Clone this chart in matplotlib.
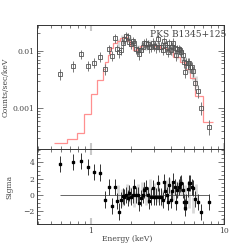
import numpy as np
import matplotlib
matplotlib.use("Agg")
from matplotlib import pyplot as plt
from matplotlib.ticker import FuncFormatter, MultipleLocator, LogLocator

plt.rcParams["font.family"] = ["DejaVu Serif"]

# ------ data (keV, counts/sec/keV, sigma)

energy = [0.588, 0.732, 0.841, 0.944, 1.053, 1.162, 1.274, 1.366, 1.447, 1.506,
          1.568, 1.624, 1.681, 1.730, 1.781, 1.833, 1.887, 1.942, 2.000, 2.058,
          2.118, 2.179, 2.244, 2.309, 2.376, 2.447, 2.518, 2.592, 2.667, 2.746,
          2.826, 2.909, 2.994, 3.082, 3.172, 3.265, 3.360, 3.458, 3.539, 3.622,
          3.707, 3.793, 3.882, 3.972, 4.064, 4.159, 4.257, 4.356, 4.458, 4.561,
          4.669, 4.778, 4.889, 5.003, 5.091, 5.210, 5.332, 5.455, 5.583, 5.713,
          5.846, 6.053, 6.376, 6.754, 7.757]
counts = [0.00395, 0.00543, 0.00865, 0.00551, 0.00621, 0.00788, 0.00482, 0.0107, 0.0082, 0.0164,
          0.0107, 0.0094, 0.0103, 0.0134, 0.0157, 0.0180, 0.0175, 0.0144, 0.0131, 0.0149,
          0.0138, 0.0106, 0.0103, 0.0088, 0.0103, 0.0117, 0.0134, 0.0138, 0.0131, 0.0114,
          0.0117, 0.0138, 0.0121, 0.0114, 0.0157, 0.0117, 0.0117, 0.0103, 0.0149, 0.0126,
          0.0117, 0.0096, 0.0134, 0.0103, 0.0117, 0.0138, 0.0110, 0.0084, 0.0106, 0.0106,
          0.0103, 0.0096, 0.0084, 0.00646, 0.00434, 0.00604, 0.00604, 0.00621, 0.00529, 0.00529,
          0.00445, 0.00272, 0.00200, 0.00103, 0.000483]
count_err = [0.00085, 0.0011, 0.0016, 0.0011, 0.0012, 0.0015, 0.0010, 0.0020, 0.0017, 0.0030,
             0.0021, 0.0019, 0.0020, 0.0024, 0.0027, 0.0030, 0.0029, 0.0025, 0.0023, 0.0026,
             0.0024, 0.0020, 0.0020, 0.0018, 0.0020, 0.0022, 0.0024, 0.0025, 0.0024, 0.0021,
             0.0022, 0.0025, 0.0022, 0.0021, 0.0027, 0.0022, 0.0022, 0.0020, 0.0026, 0.0023,
             0.0022, 0.0019, 0.0024, 0.0020, 0.0022, 0.0025, 0.0021, 0.0017, 0.0020, 0.0020,
             0.0020, 0.0019, 0.0017, 0.0014, 0.0010, 0.0013, 0.0013, 0.0013, 0.0012, 0.0012,
             0.0010, 0.00065, 0.00050, 0.00027, 0.00014]
sigma = [3.80, 4.05, 4.21, 3.44, 2.86, 2.74, -0.57, 1.02, -1.31, 1.02,
         -0.74, -2.04, -0.61, -0.12, -0.29, 0.00, -0.41, 0.25, -0.20, 0.00,
         0.94, 0.00, 0.00, -0.94, -0.41, 0.00, 0.61, 0.82, 0.00, -0.74,
         -0.20, 0.82, -0.20, -0.20, 1.51, -0.20, -0.20, -0.61, 1.60, 0.49,
         0.00, -0.82, 1.23, -0.61, 0.49, 1.64, 1.02, -0.82, 0.61, 1.02,
         1.31, 1.43, 0.61, -0.82, -1.55, -0.82, 0.74, 1.51, 1.43, 1.02,
         0.82, -0.53, -0.82, -2.13, -0.82]

# second (light grey) data set
energy2 = [1.60, 1.72, 1.85, 1.98, 2.12, 2.27, 2.43, 2.60, 2.78, 2.97, 3.18,
           3.40, 3.64, 3.89, 4.16, 4.45, 4.76, 5.09, 5.45, 5.83, 6.20]
counts2 = [0.0135, 0.0160, 0.0170, 0.0150, 0.0120, 0.0108, 0.0118, 0.0125, 0.0128, 0.0130, 0.0126,
           0.0120, 0.0115, 0.0108, 0.0100, 0.0090, 0.0080, 0.0066, 0.0052, 0.0040, 0.0030]
count_err2 = [0.0025, 0.0029, 0.0030, 0.0027, 0.0022, 0.0020, 0.0021, 0.0022, 0.0023, 0.0023, 0.0022,
              0.0021, 0.0021, 0.0020, 0.0018, 0.0017, 0.0015, 0.0013, 0.0011, 0.0009, 0.0007]
sigma2 = [0.2, -0.3, 0.4, 0.0, -0.5, 0.3, 0.6, -0.2, 0.9, 0.5, 0.1,
          -0.4, 0.8, 1.1, 0.4, 0.7, 1.0, 0.2, -0.6, -1.2, 0.3]

# folded model (histogram)
model_edges = [0.527, 0.660, 0.785, 0.890, 0.995, 1.104, 1.224, 1.281, 1.342, 1.402,
               1.463, 1.56, 1.652, 1.75, 1.855, 1.964, 2.08, 2.206, 2.335, 2.62,
               2.94, 3.30, 3.71, 4.16, 4.67, 5.09, 5.55, 6.06, 6.98, 8.29]
model_vals = [0.000247, 0.000294, 0.000378, 0.00079, 0.00176, 0.0031, 0.0048, 0.0064, 0.0084,
              0.0113, 0.0136, 0.0149, 0.0165, 0.0171, 0.0150, 0.0122, 0.0103, 0.0113, 0.0122,
              0.0125, 0.0122, 0.0110, 0.0097, 0.0079, 0.0064, 0.0048, 0.0034, 0.00166, 0.00059]

# ------

fig = plt.figure(figsize=(2.49, 2.49), dpi=100)
ax1 = fig.add_axes([0.1486, 0.4016, 0.751, 0.498])
ax2 = fig.add_axes([0.1486, 0.1004, 0.751, 0.3012], sharex=ax1)

ax1.errorbar(energy2, counts2, yerr=count_err2, fmt="none", ecolor="#d9d9d9", elinewidth=2, zorder=1)
ax1.stairs(model_vals, model_edges, baseline=None, color="#ff9090", lw=0.9, zorder=2)
ax1.errorbar(energy, counts, yerr=count_err, fmt="s", ms=2.8, mfc="none", mec="#555555", mew=0.6,
             ecolor="#777777", elinewidth=0.7, zorder=3)
ax1.text(0.603, 0.9, "PKS B1345+125", transform=ax1.transAxes, fontsize=6.5, color="#444444",
         va="baseline", ha="left")

ax2.errorbar(energy2, sigma2, yerr=1, fmt="none", ecolor="#d9d9d9", elinewidth=2, zorder=1)
ax2.hlines(0, energy[0], energy[-1], color="#666666", lw=0.7, zorder=2)
ax2.errorbar(energy, sigma, yerr=1, fmt="s", ms=1.8, mfc="black", mec="black",
             ecolor="#333333", elinewidth=0.7, zorder=3)

ax1.set_xscale("log")
ax1.set_yscale("log")
ax1.set_xlim(0.393, 10)
ax1.set_ylim(1.97e-4, 0.0279)
ax2.set_ylim(-3.56, 5.64)

fmt = FuncFormatter(lambda v, p: "%g" % v)
ax1.xaxis.set_major_formatter(fmt)
ax1.yaxis.set_major_formatter(fmt)
ax1.yaxis.set_minor_locator(LogLocator(subs=np.arange(2, 10)))
ax2.yaxis.set_major_locator(MultipleLocator(2))
ax2.yaxis.set_minor_locator(MultipleLocator(0.5))
ax1.tick_params(axis="x", labelbottom=False)

for ax in (ax1, ax2):
    ax.tick_params(which="both", direction="in", top=True, right=True, colors="#444444",
                   labelsize=5.5, width=0.5, pad=2)
    ax.tick_params(which="major", length=4)
    ax.tick_params(which="minor", length=2)
    ax.tick_params(axis="x", which="major", color="#c8c8c8", width=1.5)
    for s in ax.spines.values():
        s.set_linewidth(0.7)
        s.set_color("#333333")

ax1.set_ylabel("Counts/sec/keV", fontsize=5.5, color="#444444")
ax1.yaxis.set_label_coords(-0.145, 0.5)
ax2.set_ylabel("Sigma", fontsize=5.5, color="#444444")
ax2.yaxis.set_label_coords(-0.125, 0.5)
ax2.set_xlabel("Energy (keV)", fontsize=5.5, color="#444444")
ax2.xaxis.set_label_coords(0.48, -0.15)

plt.savefig("out.png", dpi=100)
